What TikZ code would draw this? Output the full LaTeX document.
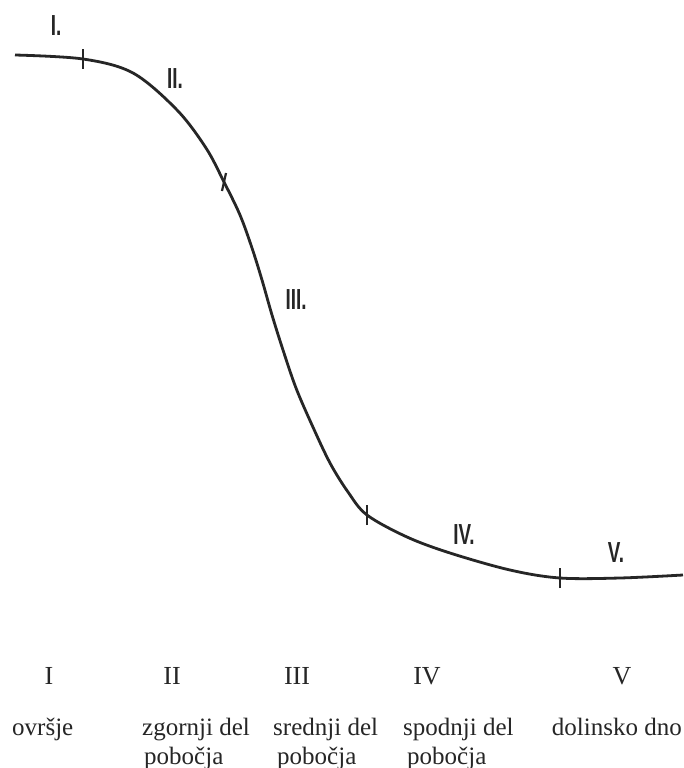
\documentclass[tikz,border=0pt]{standalone}
\usepackage{fontspec}
\setmainfont{Liberation Serif}
\newfontfamily\lblfont{Liberation Sans}
\begin{document}
\begin{tikzpicture}[x=1pt,y=-1pt,
  curve/.style={line width=2.8pt,draw=black!85},
  tick/.style={line width=2.2pt,draw=black!85},
  seg/.style={font=\lblfont\bfseries\fontsize{29}{29}\selectfont,inner sep=0pt,xscale=0.65,text=black!85},
  roman/.style={font=\fontsize{26}{26}\selectfont,inner sep=0pt,text=black!85},
  zone/.style={font=\fontsize{25}{25}\selectfont,inner sep=0pt,text=black!85}]
\fill[white] (0,0) rectangle (683,768);
\useasboundingbox (0,0) rectangle (683,768);
\clip (0,0) rectangle (683,768);
% profile curve
\draw[curve] plot[smooth,tension=0.55] coordinates {(15,55) (83,59) (133,73) (177,110) (206,148) (224,182) (240,215) (252,248) (262,280) (272,315) (283,350) (296,388) (312,425) (330,463) (348,492) (367,515) (407,537) (450,553) (510,570) (560,578) (620,578) (683,575)};
% division ticks
\coordinate (t1) at (83,59);
\coordinate (t2) at (224,182);
\coordinate (t3) at (367,515);
\coordinate (t4) at (560,578);
\draw[tick] ([yshift=-10]t1) -- ([yshift=10]t1);
\draw[tick] ([xshift=-2,yshift=-9]t2) -- ([xshift=2,yshift=9]t2);
\draw[tick] ([yshift=-10]t3) -- ([yshift=10]t3);
\draw[tick] ([yshift=-10]t4) -- ([yshift=10]t4);
% segment labels
\node[seg] (s1) at (56,26) {I.};
\node[seg] (s2) at (175,79) {II.};
\node[seg] (s3) at (296,300) {III.};
\node[seg] (s4) at (464,535) {IV.};
\node[seg] (s5) at (616,553) {V.};
% bottom legend
\node[roman] (r1) at (49,676) {I};
\node[roman] (r2) at (172,676) {II};
\node[roman] (r3) at (297,676) {III};
\node[roman] (r4) at (427,676) {IV};
\node[roman] (r5) at (622,676) {V};
\node[zone,anchor=base west] (z1) at (12,735) {ovršje};
\node[zone,anchor=base west] (z2) at (142,735) {zgornji del};
\node[zone,anchor=base west] (z2b) at (144,764) {pobočja};
\node[zone,anchor=base west] (z3) at (273,735) {srednji del};
\node[zone,anchor=base west] (z3b) at (277,764) {pobočja};
\node[zone,anchor=base west] (z4) at (403,735) {spodnji del};
\node[zone,anchor=base west] (z4b) at (407,764) {pobočja};
\node[zone,anchor=base east] (z5) at (682,735) {dolinsko dno};
\end{tikzpicture}
\end{document}
